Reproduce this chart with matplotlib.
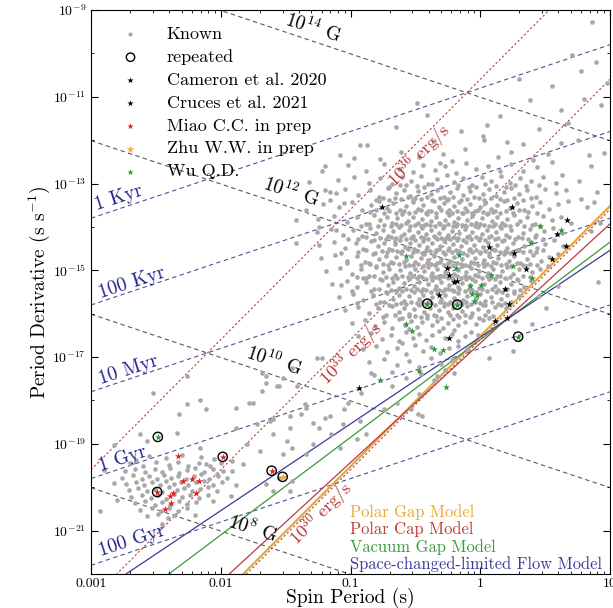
import numpy as np
import matplotlib
matplotlib.use('Agg')
import matplotlib.pyplot as plt
from matplotlib.ticker import FixedLocator, FixedFormatter, LogLocator, NullFormatter

plt.rcParams['font.family'] = 'serif'
plt.rcParams['font.serif'] = ['cmr10', 'DejaVu Serif']
plt.rcParams['mathtext.fontset'] = 'cm'
plt.rcParams['axes.unicode_minus'] = False
plt.rcParams['axes.formatter.use_mathtext'] = True

# ---- data (log10 P [s], log10 Pdot [s/s]) ----
known_young = [
    (-0.93,-12.12),(-0.61,-12.28),(-0.36,-12.02),(-0.12,-12.21),(0.14,-12.38),(0.33,-12.09),(0.52,-12.33),(-0.77,-12.44),
    (-0.22,-12.47),(0.03,-12.0),(0.41,-12.46),(-0.47,-12.39),(-1.08,-12.35),(0.24,-12.27),(-0.29,-12.31),
    (-1.02,-12.58),(-0.88,-12.71),(-0.74,-12.55),(-0.63,-12.66),(-0.52,-12.74),(-0.44,-12.57),(-0.35,-12.69),(-0.27,-12.6),
    (-0.19,-12.75),(-0.11,-12.53),(-0.03,-12.67),(0.06,-12.59),(0.15,-12.72),(0.24,-12.56),(0.33,-12.7),(0.44,-12.62),
    (0.55,-12.51),(-0.31,-12.52),
    (-1.1,-12.92),(-0.97,-12.84),(-0.86,-12.98),(-0.77,-12.88),(-0.68,-13.02),(-0.6,-12.86),(-0.53,-12.95),(-0.46,-12.83),
    (-0.4,-13.0),(-0.33,-12.9),(-0.26,-12.81),(-0.2,-12.97),(-0.13,-12.88),(-0.06,-13.03),(0.01,-12.85),(0.08,-12.94),
    (0.16,-12.82),(0.23,-12.99),(0.31,-12.87),(0.39,-12.95),(0.48,-12.84),(0.58,-12.98),(-0.57,-13.04),(0.12,-13.05),
    (-1.16,-13.2),(-1.04,-13.12),(-0.94,-13.26),(-0.85,-13.16),(-0.78,-13.3),(-0.71,-13.1),(-0.65,-13.22),(-0.59,-13.14),
    (-0.54,-13.28),(-0.48,-13.18),(-0.43,-13.09),(-0.38,-13.24),(-0.33,-13.15),(-0.28,-13.31),(-0.23,-13.2),(-0.18,-13.11),
    (-0.13,-13.27),(-0.08,-13.17),(-0.03,-13.08),(0.02,-13.23),(0.07,-13.13),(0.12,-13.29),(0.18,-13.19),(0.24,-13.1),
    (0.3,-13.25),(0.36,-13.16),(0.43,-13.3),(0.5,-13.12),(0.58,-13.22),(0.66,-13.14),(-0.5,-13.33),(-0.01,-13.34),
    (-1.21,-13.48),(-1.09,-13.55),(-0.99,-13.42),(-0.91,-13.6),(-0.84,-13.5),(-0.78,-13.41),(-0.72,-13.57),(-0.67,-13.46),
    (-0.62,-13.62),(-0.57,-13.52),(-0.52,-13.43),(-0.48,-13.58),(-0.44,-13.49),(-0.4,-13.64),(-0.36,-13.4),(-0.32,-13.55),
    (-0.28,-13.46),(-0.24,-13.61),(-0.2,-13.51),(-0.16,-13.42),(-0.12,-13.57),(-0.08,-13.47),(-0.04,-13.63),(0.0,-13.53),
    (0.04,-13.44),(0.08,-13.59),(0.13,-13.49),(0.18,-13.4),(0.23,-13.56),(0.28,-13.46),(0.34,-13.62),(0.4,-13.52),
    (0.46,-13.43),(0.53,-13.58),(0.6,-13.48),(0.68,-13.41),(-0.26,-13.38),(0.1,-13.65),
    (-1.25,-13.82),(-1.13,-13.74),(-1.03,-13.88),(-0.95,-13.78),(-0.88,-13.93),(-0.82,-13.72),(-0.77,-13.85),(-0.72,-13.76),
    (-0.68,-13.9),(-0.64,-13.8),(-0.6,-13.7),(-0.56,-13.86),(-0.52,-13.77),(-0.48,-13.92),(-0.45,-13.82),(-0.41,-13.71),
    (-0.38,-13.87),(-0.34,-13.78),(-0.31,-13.94),(-0.27,-13.83),(-0.24,-13.73),(-0.2,-13.88),(-0.17,-13.79),(-0.13,-13.69),
    (-0.1,-13.84),(-0.06,-13.75),(-0.03,-13.91),(0.01,-13.8),(0.05,-13.71),(0.09,-13.86),(0.13,-13.77),(0.17,-13.92),
    (0.21,-13.82),(0.26,-13.72),(0.31,-13.87),(0.36,-13.78),(0.42,-13.93),(0.48,-13.74),(0.55,-13.85),(0.62,-13.77),
    (0.7,-13.9),(-0.43,-13.96),
    (-1.26,-14.12),(-1.15,-14.05),(-1.06,-14.19),(-0.98,-14.08),(-0.91,-14.22),(-0.85,-14.02),(-0.8,-14.15),(-0.75,-14.06),
    (-0.71,-14.2),(-0.67,-14.1),(-0.63,-14.0),(-0.59,-14.16),(-0.55,-14.07),(-0.52,-14.22),(-0.48,-14.12),(-0.45,-14.02),
    (-0.42,-14.17),(-0.38,-14.08),(-0.35,-14.23),(-0.32,-14.13),(-0.29,-14.03),(-0.25,-14.18),(-0.22,-14.09),(-0.19,-13.99),
    (-0.16,-14.14),(-0.12,-14.05),(-0.09,-14.21),(-0.06,-14.11),(-0.02,-14.01),(0.01,-14.16),(0.05,-14.07),(0.08,-14.22),
    (0.12,-14.12),(0.16,-14.03),(0.2,-14.18),(0.24,-14.08),(0.29,-14.24),(0.33,-14.14),(0.38,-14.04),(0.43,-14.19),
    (0.49,-14.1),(0.56,-14.02),(0.63,-14.15),(-0.3,-14.26),(0.1,-13.98),(-0.66,-14.27),
    (-1.24,-14.42),(-1.13,-14.35),(-1.04,-14.49),(-0.96,-14.38),(-0.9,-14.52),(-0.84,-14.32),(-0.79,-14.45),(-0.74,-14.36),
    (-0.7,-14.5),(-0.66,-14.4),(-0.62,-14.3),(-0.58,-14.46),(-0.54,-14.37),(-0.51,-14.52),(-0.47,-14.42),(-0.44,-14.32),
    (-0.41,-14.47),(-0.37,-14.38),(-0.34,-14.53),(-0.31,-14.43),(-0.28,-14.33),(-0.24,-14.48),(-0.21,-14.39),(-0.18,-14.29),
    (-0.15,-14.44),(-0.11,-14.35),(-0.08,-14.51),(-0.05,-14.41),(-0.01,-14.31),(0.02,-14.46),(0.06,-14.37),(0.09,-14.52),
    (0.13,-14.42),(0.17,-14.33),(0.21,-14.48),(0.25,-14.38),(0.3,-14.54),(0.34,-14.44),(0.39,-14.34),(0.44,-14.49),
    (0.5,-14.4),(0.57,-14.31),(0.64,-14.45),(-0.6,-14.56),(0.0,-14.57),(-0.27,-14.27),
    (-1.23,-14.72),(-1.12,-14.65),(-1.03,-14.79),(-0.95,-14.68),(-0.89,-14.82),(-0.83,-14.62),(-0.78,-14.75),(-0.73,-14.66),
    (-0.69,-14.8),(-0.65,-14.7),(-0.61,-14.6),(-0.57,-14.76),(-0.53,-14.67),(-0.5,-14.82),(-0.46,-14.72),(-0.43,-14.62),
    (-0.4,-14.77),(-0.36,-14.68),(-0.33,-14.83),(-0.3,-14.73),(-0.27,-14.63),(-0.23,-14.78),(-0.2,-14.69),(-0.17,-14.59),
    (-0.14,-14.74),(-0.1,-14.65),(-0.07,-14.81),(-0.04,-14.71),(0.0,-14.61),(0.03,-14.76),(0.07,-14.67),(0.1,-14.82),
    (0.14,-14.72),(0.18,-14.63),(0.22,-14.78),(0.26,-14.68),(0.31,-14.84),(0.36,-14.74),(0.41,-14.64),(0.47,-14.79),
    (0.53,-14.7),(0.6,-14.62),(-0.55,-14.87),(-0.12,-14.88),(0.2,-14.57),(-0.85,-14.86),
    (-1.19,-15.02),(-1.08,-14.95),(-0.99,-15.09),(-0.92,-14.98),(-0.86,-15.12),(-0.8,-14.92),(-0.75,-15.05),(-0.7,-14.96),
    (-0.66,-15.1),(-0.62,-15.0),(-0.58,-14.9),(-0.54,-15.06),(-0.5,-14.97),(-0.47,-15.12),(-0.43,-15.02),(-0.4,-14.92),
    (-0.37,-15.07),(-0.33,-14.98),(-0.3,-15.13),(-0.27,-15.03),(-0.24,-14.93),(-0.2,-15.08),(-0.17,-14.99),(-0.14,-14.89),
    (-0.11,-15.04),(-0.07,-14.95),(-0.04,-15.11),(-0.01,-15.01),(0.03,-14.91),(0.06,-15.06),(0.1,-14.97),(0.13,-15.12),
    (0.17,-15.02),(0.21,-14.93),(0.25,-15.08),(0.3,-14.98),(0.35,-14.9),(0.4,-15.04),(0.46,-14.96),(0.52,-14.91),
    (-0.64,-15.17),(-0.22,-15.18),(0.08,-15.16),(-0.95,-15.16),
    (-1.14,-15.32),(-1.03,-15.25),(-0.95,-15.39),(-0.88,-15.28),(-0.82,-15.42),(-0.76,-15.22),(-0.71,-15.35),(-0.67,-15.26),
    (-0.63,-15.4),(-0.59,-15.3),(-0.55,-15.2),(-0.51,-15.36),(-0.47,-15.27),(-0.44,-15.42),(-0.4,-15.32),(-0.37,-15.22),
    (-0.34,-15.37),(-0.3,-15.28),(-0.27,-15.43),(-0.24,-15.33),(-0.21,-15.23),(-0.17,-15.38),(-0.14,-15.29),(-0.11,-15.19),
    (-0.08,-15.34),(-0.04,-15.25),(-0.01,-15.41),(0.03,-15.31),(0.07,-15.21),(0.11,-15.36),(0.15,-15.27),(0.19,-15.42),
    (0.24,-15.32),(0.29,-15.23),(0.34,-15.38),(0.39,-15.25),(-0.6,-15.47),(-0.2,-15.47),(0.14,-15.46),(-0.9,-15.18),
    (-1.09,-15.62),(-0.98,-15.55),(-0.9,-15.69),(-0.83,-15.58),(-0.77,-15.72),(-0.72,-15.52),(-0.67,-15.65),(-0.63,-15.56),
    (-0.59,-15.7),(-0.55,-15.6),(-0.51,-15.5),(-0.47,-15.66),(-0.44,-15.57),(-0.4,-15.72),(-0.37,-15.62),(-0.33,-15.52),
    (-0.3,-15.67),(-0.27,-15.58),(-0.23,-15.73),(-0.2,-15.63),(-0.17,-15.53),(-0.13,-15.68),(-0.1,-15.59),(-0.07,-15.49),
    (-0.03,-15.64),(0.0,-15.55),(0.04,-15.71),(0.08,-15.61),(0.12,-15.51),(0.16,-15.66),(0.21,-15.57),(0.26,-15.52),
    (0.3,-15.6),(-0.65,-15.77),(-0.25,-15.78),(-0.95,-15.76),
    (-1.04,-15.92),(-0.94,-15.85),(-0.86,-15.99),(-0.79,-15.88),(-0.73,-16.02),(-0.68,-15.82),(-0.63,-15.95),(-0.59,-15.86),
    (-0.55,-16.0),(-0.51,-15.9),(-0.47,-15.8),(-0.43,-15.96),(-0.39,-15.87),(-0.36,-16.02),(-0.32,-15.92),(-0.28,-15.82),
    (-0.25,-15.97),(-0.21,-15.88),(-0.18,-16.03),(-0.14,-15.93),(-0.1,-15.83),(-0.06,-15.98),(-0.02,-15.89),(0.02,-15.79),
    (0.06,-15.94),(0.11,-15.85),(0.16,-15.8),(0.2,-15.88),(-0.5,-16.06),(-0.15,-15.78),
    (-0.99,-16.22),(-0.89,-16.15),(-0.81,-16.29),(-0.74,-16.18),(-0.68,-16.32),(-0.63,-16.12),(-0.58,-16.25),(-0.53,-16.16),
    (-0.49,-16.3),(-0.45,-16.2),(-0.41,-16.1),(-0.37,-16.26),(-0.33,-16.17),(-0.29,-16.32),(-0.25,-16.22),(-0.21,-16.12),
    (-0.17,-16.27),(-0.12,-16.18),(-0.08,-16.08),(-0.03,-16.23),(0.02,-16.14),(0.07,-16.1),(-0.55,-16.36),(-0.2,-16.37),
    (-0.94,-16.52),(-0.84,-16.45),(-0.76,-16.59),(-0.69,-16.48),(-0.63,-16.62),(-0.57,-16.42),(-0.52,-16.55),(-0.47,-16.46),
    (-0.42,-16.6),(-0.37,-16.5),(-0.32,-16.4),(-0.27,-16.56),(-0.22,-16.47),(-0.17,-16.62),(-0.12,-16.52),(-0.07,-16.42),
    (-0.02,-16.48),(-0.6,-16.68),
    (-0.9,-16.82),(-0.8,-16.75),(-0.72,-16.89),(-0.64,-16.78),(-0.57,-16.92),(-0.5,-16.72),(-0.44,-16.85),(-0.38,-16.76),
    (-0.31,-16.9),(-0.24,-16.8),(-0.17,-16.74),(-0.1,-16.82),
    (-0.86,-17.12),(-0.74,-17.05),(-0.64,-17.19),(-0.55,-17.08),(-0.47,-17.22),(-0.38,-17.02),(-0.3,-17.15),(-0.22,-17.06),
    (-0.82,-17.42),(-0.68,-17.35),(-0.57,-17.49),(-0.46,-17.38),(-0.36,-17.52),(-0.27,-17.3),
]

known_core = [
    (-0.7,-13.07),(-0.62,-13.03),(-0.49,-13.06),(-0.37,-13.02),(-0.3,-13.08),(-0.17,-13.04),(-0.09,-13.07),(0.04,-13.02),
    (0.2,-13.07),(0.27,-13.03),(0.35,-13.06),(0.45,-13.03),
    (-0.8,-13.37),(-0.75,-13.33),(-0.7,-13.39),(-0.66,-13.34),(-0.61,-13.36),(-0.56,-13.32),(-0.52,-13.38),(-0.46,-13.35),
    (-0.41,-13.31),(-0.37,-13.37),(-0.31,-13.34),(-0.25,-13.36),(-0.21,-13.32),(-0.15,-13.38),(-0.1,-13.35),(-0.05,-13.31),
    (0.03,-13.37),(0.08,-13.33),(0.15,-13.36),(0.21,-13.39),(0.26,-13.33),(0.33,-13.37),(0.39,-13.34),
    (-0.85,-13.66),(-0.8,-13.62),(-0.74,-13.68),(-0.7,-13.64),(-0.65,-13.67),(-0.59,-13.63),(-0.55,-13.69),(-0.5,-13.65),
    (-0.46,-13.61),(-0.42,-13.67),(-0.38,-13.64),(-0.34,-13.68),(-0.3,-13.62),(-0.26,-13.66),(-0.22,-13.69),(-0.18,-13.63),
    (-0.14,-13.67),(-0.1,-13.64),(-0.06,-13.68),(-0.02,-13.62),(0.02,-13.66),(0.06,-13.69),(0.11,-13.63),(0.15,-13.67),
    (0.2,-13.64),(0.25,-13.68),(0.3,-13.62),(0.37,-13.66),(0.44,-13.69),
    (-0.92,-13.97),(-0.86,-13.93),(-0.79,-13.99),(-0.74,-13.95),(-0.69,-13.98),(-0.65,-13.94),(-0.61,-13.96),(-0.57,-13.92),
    (-0.54,-13.98),(-0.5,-13.95),(-0.46,-13.99),(-0.42,-13.93),(-0.39,-13.96),(-0.35,-13.98),(-0.32,-13.92),(-0.28,-13.97),
    (-0.25,-13.94),(-0.21,-13.98),(-0.18,-13.93),(-0.14,-13.96),(-0.11,-13.99),(-0.07,-13.94),(-0.04,-13.97),(0.0,-13.93),
    (0.03,-13.96),(0.07,-13.99),(0.11,-13.94),(0.15,-13.97),(0.19,-13.95),(0.23,-13.99),(0.28,-13.93),(0.34,-13.97),
    (0.4,-13.95),(0.46,-13.98),
    (-0.94,-14.27),(-0.88,-14.23),(-0.82,-14.29),(-0.77,-14.25),(-0.73,-14.28),(-0.69,-14.24),(-0.65,-14.26),(-0.61,-14.22),
    (-0.57,-14.28),(-0.53,-14.25),(-0.5,-14.29),(-0.46,-14.23),(-0.43,-14.26),(-0.4,-14.28),(-0.36,-14.22),(-0.33,-14.27),
    (-0.26,-14.24),(-0.23,-14.28),(-0.2,-14.23),(-0.17,-14.26),(-0.13,-14.29),(-0.1,-14.24),(-0.07,-14.27),(-0.03,-14.23),
    (0.0,-14.26),(0.04,-14.29),(0.07,-14.24),(0.11,-14.27),(0.14,-14.25),(0.18,-14.29),(0.22,-14.23),(0.27,-14.27),
    (0.32,-14.25),(0.37,-14.28),(0.42,-14.23),(0.48,-14.27),
    (-0.94,-14.57),(-0.88,-14.53),(-0.81,-14.59),(-0.76,-14.55),(-0.72,-14.58),(-0.68,-14.54),(-0.64,-14.56),(-0.56,-14.52),
    (-0.52,-14.58),(-0.49,-14.55),(-0.45,-14.59),(-0.42,-14.53),(-0.39,-14.56),(-0.35,-14.58),(-0.32,-14.52),(-0.29,-14.57),
    (-0.25,-14.54),(-0.22,-14.58),(-0.19,-14.53),(-0.16,-14.56),(-0.13,-14.59),(-0.09,-14.54),(-0.06,-14.57),(-0.03,-14.53),
    (0.04,-14.56),(0.07,-14.59),(0.11,-14.54),(0.15,-14.57),(0.19,-14.55),(0.23,-14.59),(0.28,-14.53),(0.33,-14.57),
    (0.38,-14.55),(0.43,-14.58),(0.48,-14.53),
    (-0.92,-14.87),(-0.86,-14.83),(-0.8,-14.89),(-0.75,-14.85),(-0.71,-14.88),(-0.67,-14.84),(-0.63,-14.86),(-0.59,-14.82),
    (-0.52,-14.88),(-0.48,-14.85),(-0.44,-14.89),(-0.41,-14.83),(-0.38,-14.86),(-0.35,-14.88),(-0.31,-14.82),(-0.28,-14.87),
    (-0.25,-14.84),(-0.21,-14.88),(-0.18,-14.83),(-0.15,-14.86),(-0.09,-14.89),(-0.05,-14.84),(-0.02,-14.87),(0.02,-14.83),
    (0.05,-14.86),(0.08,-14.89),(0.12,-14.84),(0.16,-14.87),(0.2,-14.85),(0.24,-14.89),(0.28,-14.83),(0.33,-14.87),
    (0.38,-14.85),(0.44,-14.88),
    (-0.88,-15.17),(-0.82,-15.13),(-0.77,-15.19),(-0.73,-15.15),(-0.68,-15.18),(-0.6,-15.14),(-0.56,-15.16),(-0.52,-15.12),
    (-0.49,-15.18),(-0.45,-15.15),(-0.42,-15.19),(-0.38,-15.13),(-0.35,-15.16),(-0.32,-15.18),(-0.28,-15.12),(-0.25,-15.17),
    (-0.18,-15.14),(-0.15,-15.18),(-0.12,-15.13),(-0.09,-15.16),(-0.06,-15.19),(-0.02,-15.14),(0.01,-15.17),(0.05,-15.13),
    (0.11,-15.19),(0.15,-15.14),(0.19,-15.17),(0.23,-15.15),(0.28,-15.19),(0.33,-15.13),(0.38,-15.16),
    (-0.84,-15.47),(-0.78,-15.43),(-0.73,-15.49),(-0.69,-15.45),(-0.65,-15.48),(-0.57,-15.44),(-0.53,-15.46),(-0.49,-15.42),
    (-0.46,-15.48),(-0.42,-15.45),(-0.38,-15.49),(-0.35,-15.43),(-0.32,-15.46),(-0.29,-15.48),(-0.25,-15.42),(-0.22,-15.45),
    (-0.16,-15.44),(-0.12,-15.48),(-0.09,-15.43),(-0.06,-15.46),(-0.03,-15.49),(0.01,-15.44),(0.05,-15.47),(0.09,-15.43),
    (0.17,-15.49),(0.21,-15.44),(0.26,-15.47),(0.31,-15.45),
    (-0.8,-15.77),(-0.74,-15.73),(-0.7,-15.79),(-0.61,-15.75),(-0.57,-15.78),(-0.53,-15.74),(-0.49,-15.76),(-0.45,-15.72),
    (-0.42,-15.78),(-0.38,-15.75),(-0.35,-15.79),(-0.31,-15.73),(-0.28,-15.76),(-0.21,-15.78),(-0.18,-15.72),(-0.14,-15.77),
    (-0.11,-15.74),(-0.07,-15.78),(-0.04,-15.73),(0.0,-15.76),(0.04,-15.79),(0.09,-15.74),(0.14,-15.77),(0.19,-15.75),
    (0.24,-15.73),
    (-0.75,-16.07),(-0.66,-16.03),(-0.6,-16.09),(-0.55,-16.05),(-0.46,-16.08),(-0.41,-16.04),(-0.34,-16.06),(-0.3,-16.09),
    (-0.23,-16.04),(-0.16,-16.07),(-0.12,-16.03),(-0.07,-16.06),(-0.01,-16.09),(0.04,-16.04),(0.1,-16.06),
]

known_sparse = [
    (0.86,-9.28),(0.89,-10.2),(0.78,-10.4),(0.55,-10.75),(0.38,-11.08),(0.3,-10.6),(0.71,-10.04),(0.98,-10.69),
    (0.93,-11.2),(0.8,-11.05),(0.62,-11.3),(0.21,-12.05),(0.02,-11.9),(0.05,-11.66),(-0.49,-11.15),(-0.41,-11.42),
    (-0.87,-12.12),(-0.97,-12.4),(-1.2,-12.6),(0.45,-11.75),(0.68,-11.6),(0.15,-11.45),(-0.15,-11.8),(-0.65,-11.7),
    (0.95,-12.3),(0.85,-12.6),(0.75,-12.0),(0.9,-13.2),(0.76,-12.93),(0.63,-12.81),(0.82,-13.55),(0.88,-13.43),
    (0.78,-13.35),(0.84,-12.35),(0.62,-12.07),(0.92,-13.9),(0.85,-14.1),
    (0.51,-15.86),(0.40,-16.23),(0.25,-16.85),(0.07,-17.01),(0.91,-15.28),(0.6,-15.37),(0.27,-16.16),(0.45,-15.6),
    (-1.22,-12.7),(-1.32,-12.97),(-1.2,-13.16),(-1.11,-13.21),(-1.16,-13.39),(-1.05,-13.46),(-1.42,-13.85),(-1.24,-14.01),
    (-1.11,-14.08),(-1.02,-14.27),(-1.34,-13.62),(-1.03,-14.84),(-1.07,-14.59),(-1.42,-14.38),
    (-1.07,-15.35),(-0.99,-15.47),(-1.26,-17.01),(-1.55,-17.66),(-1.68,-17.78),(-1.78,-18.05),(-1.60,-18.42),(-1.47,-18.35),
    (-1.35,-18.08),(-1.29,-18.51),(-1.16,-18.35),(-1.05,-18.19),(-1.65,-17.43),(-1.41,-17.66),(-1.22,-17.01),(-1.88,-18.63),
    (-1.72,-18.54),(-1.02,-18.05),
    (-0.84,-17.36),(-0.92,-17.82),(-0.68,-17.66),(-0.53,-18.19),(-0.45,-18.35),(-0.74,-18.19),(-0.64,-18.05),(-0.33,-17.43),
    (-0.2,-17.36),(-0.47,-17.85),
    (-1.34,-18.17),(-1.2,-18.4),(-1.24,-18.63),(-1.06,-18.54),(-1.15,-18.77),(-1.08,-19.09),(-0.95,-18.88),(-0.88,-18.77),
    (-0.93,-18.47),(-1.29,-19.0),(-1.34,-19.23),(-1.38,-18.31),(-0.48,-18.31),
    (-2.52,-17.82),(-2.26,-17.43),(-1.68,-17.36),(-1.65,-17.59),(-1.57,-17.66),(-1.52,-17.48),(-1.45,-17.25),
    (-2.26,-18.08),(-2.11,-18.19),(-1.88,-18.17),(-1.75,-18.05),(-1.62,-18.47),(-1.47,-18.63),(-1.60,-18.77),(-1.80,-19.0),
    (-1.70,-19.16),(-1.52,-19.23),(-1.49,-18.93),(-1.45,-19.09),(-1.55,-19.79),(-1.45,-19.85),(-1.60,-20.09),(-1.65,-19.92),
    (-1.47,-20.09),(-1.91,-19.62),(-2.03,-19.69),(-2.11,-19.46),(-1.91,-19.39),(-1.83,-19.46),(-2.06,-20.32),(-2.82,-19.02),
    (-2.57,-18.93),(-2.62,-18.77),(-2.34,-18.75),(-2.16,-19.09),(-2.32,-18.31),(-2.16,-18.0),
]

known_msp = [
    (-2.55,-19.28),(-2.42,-19.33),(-2.3,-19.25),(-2.15,-19.3),(-2.05,-19.36),(-2.65,-19.38),
    (-2.7,-19.45),(-2.6,-19.5),(-2.5,-19.42),(-2.4,-19.48),(-2.33,-19.41),(-2.25,-19.52),(-2.17,-19.44),(-2.08,-19.5),(-2.0,-19.43),
    (-2.74,-19.62),(-2.66,-19.57),(-2.58,-19.66),(-2.51,-19.58),(-2.45,-19.64),(-2.39,-19.56),(-2.32,-19.67),(-2.26,-19.6),
    (-2.2,-19.55),(-2.13,-19.65),(-2.06,-19.58),(-1.98,-19.63),
    (-2.76,-19.78),(-2.68,-19.72),(-2.61,-19.8),(-2.55,-19.74),(-2.49,-19.82),(-2.44,-19.71),(-2.38,-19.79),(-2.33,-19.73),
    (-2.27,-19.81),(-2.21,-19.75),(-2.15,-19.7),(-2.09,-19.8),(-2.02,-19.74),(-1.95,-19.79),
    (-2.73,-19.92),(-2.65,-19.87),(-2.59,-19.95),(-2.53,-19.88),(-2.47,-19.96),(-2.42,-19.86),(-2.36,-19.93),(-2.31,-19.87),
    (-2.25,-19.95),(-2.19,-19.89),(-2.13,-19.85),(-2.06,-19.94),(-1.99,-19.88),
    (-2.71,-20.06),(-2.64,-20.01),(-2.57,-20.09),(-2.51,-20.03),(-2.45,-20.1),(-2.4,-20.0),(-2.34,-20.07),(-2.28,-20.02),
    (-2.22,-20.09),(-2.16,-20.04),(-2.1,-20.0),(-2.03,-20.08),
    (-2.69,-20.22),(-2.61,-20.17),(-2.54,-20.25),(-2.48,-20.18),(-2.42,-20.26),(-2.36,-20.16),(-2.3,-20.23),(-2.24,-20.17),
    (-2.17,-20.24),(-2.1,-20.19),
    (-2.66,-20.37),(-2.58,-20.32),(-2.51,-20.4),(-2.45,-20.33),(-2.39,-20.41),(-2.32,-20.31),(-2.26,-20.38),(-2.19,-20.34),
    (-2.62,-20.52),(-2.53,-20.47),(-2.46,-20.55),(-2.4,-20.48),(-2.33,-20.54),(-2.26,-20.49),
    (-2.57,-20.66),(-2.48,-20.62),(-2.41,-20.7),(-2.35,-20.64),
    (-2.82,-19.9),(-2.8,-20.3),(-1.92,-20.2),(-1.88,-19.95),(-2.9,-19.6),(-2.45,-20.85),(-2.2,-20.65),(-2.93,-20.55),
]

cameron = [(-0.754,-13.53),(0.246,-13.53),(0.669,-13.83),(0.069,-14.47),(0.192,-15.42),(-0.931,-17.71)]
cruces = [(0.592,-14.17),(0.662,-14.43),(0.554,-14.73),(0.262,-14.61),(0.354,-14.98),(-0.254,-14.94),
          (-0.238,-15.10),(-0.20,-15.28),(-0.177,-15.24),(-0.315,-15.56),(0.223,-15.77),(0.115,-16.16),
          (0.208,-16.09),(-0.238,-16.55)]
miao = [(-2.331,-19.28),(-2.292,-19.85),(-2.223,-19.81),(-2.169,-19.85),(-2.192,-20.13),(-2.369,-20.13),
        (-2.392,-20.20),(-2.385,-20.36),(-2.431,-20.50),(-2.49,-20.11),(-1.985,-19.30),(-1.608,-19.62)]
zhu = [(-1.523,-19.76)]
wu = [(-0.569,-14.66),(-0.162,-14.64),(-0.185,-14.94),(0.085,-15.10),(0.392,-14.38),(0.462,-13.97),(0.623,-14.06),
      (0.254,-14.91),(0.40,-15.17),(-0.077,-15.37),(0.008,-15.35),(-0.062,-15.54),(-0.023,-15.58),(-0.046,-15.70),
      (-0.569,-16.23),(-0.523,-16.41),(-0.354,-16.81),(-0.285,-16.83),(-0.469,-17.31),(-0.769,-17.52),(-0.262,-17.68),
      (-0.408,-15.77),(-0.177,-15.79),(0.292,-16.53),(-2.485,-18.84)]
repeated = [(-0.408,-15.77),(-0.177,-15.79),(0.292,-16.53),(-2.485,-18.84),(-2.49,-20.11),
            (-1.985,-19.30),(-1.608,-19.62),(-1.523,-19.76)]

b_fields = [14, 12, 10, 8]                 # log10 B [G]
ages_yr = [1e3, 1e5, 1e7, 1e9, 1e11]
age_names = ['1 Kyr', '100 Kyr', '10 Myr', '1 Gyr', '100 Gyr']
edots = [36, 33, 30]                       # log10 Edot [erg/s]

# death line models: (name, colour, log Pdot at P=1ms, log Pdot at P=10s)
models = [
    ('Polar Gap Model', '#e8a838', -25.52, -13.52),
    ('Polar Cap Model', '#c03a3a', -24.93, -13.93),
    ('Vacuum Gap Model', '#3a9a3a', -23.35, -14.35),
    ('Space-changed-limited Flow Model', '#3a3a9a', -22.54, -14.54),
]


def unpack(pts):
    a = np.array(pts)
    return 10**a[:, 0], 10**a[:, 1]


fig = plt.figure(figsize=(6.13, 6.08), dpi=100)
ax = fig.add_axes([91/613, 34/608, 519/613, 564/608])
ax.set_xscale('log')
ax.set_yscale('log')
ax.set_xlim(1e-3, 10)
ax.set_ylim(1e-22, 1e-9)

P = np.logspace(-3, 1, 300)

for b in b_fields:
    ax.plot(P, (10**b/3.2e19)**2/P, color='0.35', ls=(0, (4, 3)), lw=0.8, zorder=1)
for t in ages_yr:
    ax.plot(P, P/(2*t*3.156e7), color='#50509a', ls=(0, (4, 3)), lw=0.8, zorder=1)
for e in edots:
    ax.plot(P, 10**e*P**3/(4*np.pi**2*1e45), color='#b84040', ls=(0, (2, 2)), lw=0.8, zorder=1.5)
for name, c, y0, y1 in models:
    lw = 1.6 if name.startswith('Polar Gap') else 0.9
    ax.plot([1e-3, 10], [10**y0, 10**y1], color=c, lw=lw, zorder=1.2)

gx, gy = unpack(known_young + known_core + known_sparse + known_msp)
h_known = ax.scatter(gx, gy, s=11, c='#a8a8a8', linewidths=0, zorder=2, label='Known')

x, y = unpack(repeated)
h_rep = ax.scatter(x, y, s=45, facecolors='none', edgecolors='k', linewidths=1.0, zorder=4, label='repeated')
x, y = unpack(cameron)
h_cam = ax.scatter(x, y, s=28, marker='*', c='k', linewidths=0, zorder=3, label='Cameron et al. 2020')
x, y = unpack(cruces)
h_cru = ax.scatter(x, y, s=28, marker='*', c='k', linewidths=0, zorder=3, label='Cruces et al. 2021')
x, y = unpack(miao)
h_mia = ax.scatter(x, y, s=28, marker='*', c='#e02020', linewidths=0, zorder=3, label='Miao C.C. in prep')
x, y = unpack(zhu)
h_zhu = ax.scatter(x, y, s=45, marker='*', c='#f0b040', linewidths=0, zorder=3, label='Zhu W.W. in prep')
x, y = unpack(wu)
h_wu = ax.scatter(x, y, s=28, marker='*', c='#2a9a3a', linewidths=0, zorder=3, label='Wu Q.D.')

# line labels
blab = [(-1.285, -9.42), (-1.454, -13.2), (-1.585, -17.08), (-1.754, -20.96)]
for b, (lp, lpd) in zip(b_fields, blab):
    ax.text(10**lp, 10**lpd, r'$\mathit{10^{%d}}$ G' % b, fontsize=14, rotation=-18,
            ha='center', va='center', color='k')
alab = [(-2.79, -13.32), (-2.685, -15.28), (-2.715, -17.29), (-2.754, -19.35), (-2.685, -21.24)]
for name, (lp, lpd) in zip(age_names, alab):
    ax.text(10**lp, 10**lpd, name, fontsize=14, rotation=18, ha='center', va='center', color='#22228a')
elab = [(-0.469, -12.37), (-0.992, -16.92), (-1.223, -20.62)]
for e, (lp, lpd) in zip(edots, elab):
    ax.text(10**lp, 10**lpd, r'$10^{%d}$ erg/s' % e, fontsize=13, rotation=45,
            ha='center', va='center', color='#b03030')

ax.legend(handles=[h_known, h_rep, h_cam, h_cru, h_mia, h_zhu, h_wu], loc='upper left',
          bbox_to_anchor=(0.01, 1.0), frameon=False, fontsize=13, labelspacing=0.4,
          handletextpad=1.0, markerscale=0.9, scatterpoints=1)

for i, (name, c, y0, y1) in enumerate(models):
    ax.text(0.499, 0.110 - i*0.031, name, color=c, fontsize=11.9, transform=ax.transAxes,
            ha='left', va='center')

ax.xaxis.set_major_locator(FixedLocator([1e-3, 1e-2, 1e-1, 1, 10]))
ax.xaxis.set_major_formatter(FixedFormatter(['0.001', '0.01', '0.1', '1', '10']))
ax.xaxis.set_minor_locator(LogLocator(base=10, subs=np.arange(2, 10), numticks=20))
ax.xaxis.set_minor_formatter(NullFormatter())
ymaj = [-21, -19, -17, -15, -13, -11, -9]
ax.yaxis.set_major_locator(FixedLocator([10.0**k for k in ymaj]))
ax.yaxis.set_major_formatter(FixedFormatter([r'$10^{%d}$' % k for k in ymaj]))
ax.yaxis.set_minor_locator(FixedLocator([10.0**k for k in [-22, -20, -18, -16, -14, -12, -10]]))
ax.yaxis.set_minor_formatter(NullFormatter())
ax.tick_params(which='both', direction='in', top=True, right=True, labelsize=10)
ax.tick_params(which='major', length=5, width=0.8)
ax.tick_params(which='minor', length=2.5, width=0.6)
ax.tick_params(axis='x', which='major', pad=2.5)

ax.set_xlabel('Spin Period (s)', fontsize=14, labelpad=-1)
ax.set_ylabel(r'Period Derivative (s s$^{-1}$)', fontsize=14, labelpad=0)

fig.savefig('out.png', dpi=100)
